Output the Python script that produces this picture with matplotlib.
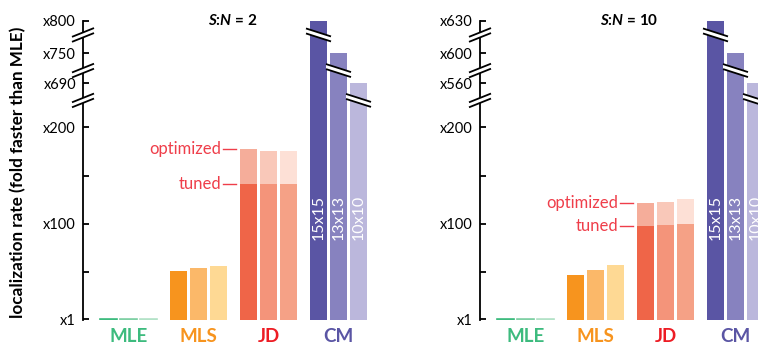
import matplotlib
matplotlib.use('Agg')
import matplotlib.pyplot as plt
import matplotlib.transforms as mtransforms
from matplotlib.patches import Polygon

plt.rcParams['font.family'] = ['Lato', 'DejaVu Sans']
plt.rcParams['mathtext.fontset'] = 'custom'
plt.rcParams['mathtext.bfit'] = 'Lato:italic:bold'

methods = ['MLE', 'MLS', 'JD', 'CM']
roi_sizes = ['15x15', '13x13', '10x10']

# S:N = 2
sn2_mle = [1, 1, 1]
sn2_mls = [51, 54, 56]
sn2_jd_tuned = [141, 141, 141]
sn2_jd_opt = [178, 176, 176]
sn2_cm = [800, 750, 690]

# S:N = 10
sn10_mle = [1, 1, 1]
sn10_mls = [47, 52, 57]
sn10_jd_tuned = [97.6, 98.6, 100]
sn10_jd_opt = [121, 123, 125.5]
sn10_cm = [630, 600, 560]

mle_colors = ['#3dbb7e', '#7fd0a4', '#b3e2c7']
mls_colors = ['#f7941e', '#fbb869', '#fed994']
jd_low = ['#ef6548', '#f4947a', '#f5a186']
jd_high = ['#f5ad9a', '#f9c8b9', '#fde0d6']
cm_colors = ['#5a55a4', '#8782bf', '#bbb7dc']
label_colors = ['#3dbb7e', '#f7941e', '#ed1c24', '#5a55a4']
red_txt = '#ef3e4a'

# layout of the broken upper part of the axis (axis units, not data)
cm_slots = [311, 277, 246]
cm_breaks = [296, 259, 228]

fig = plt.figure(figsize=(7.58, 3.45), dpi=100)
W, H = 758, 345
bar_w = 0.84
group_step = 3.5


def brk(ax, x, y, half_px, slope):
    tr = fig.dpi_scale_trans + mtransforms.ScaledTranslation(x, y, ax.transData)
    h = half_px / 100
    g = 0.025
    dy = slope * h
    poly = [(-h, -dy + g), (h, dy + g), (h, dy - g), (-h, -dy - g)]
    ax.add_patch(Polygon(poly, closed=True, transform=tr, fc='white', ec='none',
                         zorder=5, clip_on=False))
    for s in (g, -g):
        ax.plot([-h, h], [-dy + s, dy + s], transform=tr, color='black', lw=1.3,
                zorder=6, clip_on=False, solid_capstyle='butt')


def panel(left_px, mle, mls, jd_tuned, jd_opt, cm, sn):
    ax = fig.add_axes([left_px / W, 25 / H, 297 / W, 299.5 / H])
    ax.set_xlim(-1.275, 13.575)
    ax.set_ylim(0, 311)

    xs = lambda g: [g * group_step + j for j in range(3)]

    ax.bar(xs(0), mle, width=bar_w, color=mle_colors, edgecolor=mle_colors,
           linewidth=1.2)
    ax.bar(xs(1), mls, width=bar_w, color=mls_colors, linewidth=0)
    ax.bar(xs(2), jd_tuned, width=bar_w, color=jd_low, linewidth=0)
    ax.bar(xs(2), [o - t for o, t in zip(jd_opt, jd_tuned)], bottom=jd_tuned,
           width=bar_w, color=jd_high, linewidth=0)
    ax.bar(xs(3), cm_slots, width=bar_w, color=cm_colors, linewidth=0)

    for x, lab, b in zip(xs(3), roi_sizes, cm_breaks):
        ax.text(x, 83, lab, rotation=90, color='white', ha='center', va='bottom',
                fontsize=11.5, zorder=4)
        brk(ax, x, b, 12.5, -0.32)

    # optimized / tuned labels
    x0 = xs(2)[0] - bar_w / 2
    for val, lab in ((jd_opt[0], 'optimized'), (jd_tuned[0], 'tuned')):
        ax.plot([x0 - 0.85, x0 - 0.2], [val, val], color=red_txt, lw=1.0)
        ax.text(x0 - 0.95, val, lab, color=red_txt, ha='right', va='center',
                fontsize=12)

    # category labels
    for g, (m, c) in enumerate(zip(methods, label_colors)):
        ax.text(g * group_step + 1, -0.028, m, color=c, ha='center', va='top',
                fontsize=13.5, fontweight='bold', transform=ax.get_xaxis_transform())

    ax.text(6.2, 311, r'$\mathbfit{S}$:$\mathbfit{N}$ = ' + str(sn), ha='center',
            va='center', fontsize=11, fontweight='bold')

    for s in ('top', 'right', 'bottom'):
        ax.spines[s].set_visible(False)
    ax.spines['left'].set_linewidth(1.3)
    ax.set_xticks([])
    ticks = [1, 100, 200] + cm_slots[::-1]
    labels = ['x1', 'x100', 'x200'] + ['x%d' % v for v in cm[::-1]]
    ax.set_yticks(ticks)
    ax.set_yticklabels(labels)
    ax.set_yticks([50, 150], minor=True)
    ax.tick_params(axis='y', which='both', direction='in', length=4, width=1.3,
                   labelsize=10.5, pad=5)

    for b in cm_breaks:
        brk(ax, -1.275, b, 11, 0.4)
    return ax


panel(83, sn2_mle, sn2_mls, sn2_jd_tuned, sn2_jd_opt, sn2_cm, 2)
panel(480, sn10_mle, sn10_mls, sn10_jd_tuned, sn10_jd_opt, sn10_cm, 10)

fig.text(0.024, 0.50, 'localization rate (fold faster than MLE)', rotation=90,
         ha='center', va='center', fontsize=12.3, fontweight='bold')

fig.savefig('out.png', dpi=100)
